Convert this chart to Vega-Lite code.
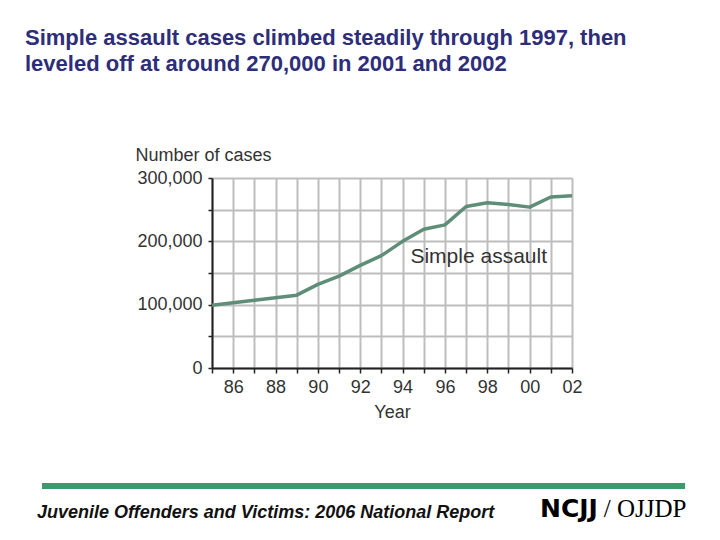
{
  "$schema": "https://vega.github.io/schema/vega-lite/v6.json",
  "autosize": "none",
  "width": 360,
  "height": 190,
  "padding": {"left": 212, "top": 178, "right": 148, "bottom": 172},
  "background": "white",
  "config": {"view": {"stroke": null}, "font": "Liberation Sans"},
  "title": {
    "text": ["Simple assault cases climbed steadily through 1997, then", "leveled off at around 270,000 in 2001 and 2002"],
    "anchor": "start",
    "frame": "group",
    "dx": -187,
    "offset": 70,
    "fontSize": 22,
    "fontWeight": "bold",
    "font": "Liberation Sans",
    "color": "#2d2d7a",
    "lineHeight": 26
  },
  "layer": [
    {
      "data": {
        "values": [
          {"year": 1985, "cases": 99000},
          {"year": 1986, "cases": 103000},
          {"year": 1987, "cases": 107000},
          {"year": 1988, "cases": 111000},
          {"year": 1989, "cases": 115000},
          {"year": 1990, "cases": 132000},
          {"year": 1991, "cases": 145000},
          {"year": 1992, "cases": 162000},
          {"year": 1993, "cases": 177500},
          {"year": 1994, "cases": 200000},
          {"year": 1995, "cases": 219000},
          {"year": 1996, "cases": 226000},
          {"year": 1997, "cases": 255000},
          {"year": 1998, "cases": 261000},
          {"year": 1999, "cases": 258000},
          {"year": 2000, "cases": 254000},
          {"year": 2001, "cases": 270000},
          {"year": 2002, "cases": 272000}
        ]
      },
      "mark": {"type": "line", "color": "#5e8e77", "strokeWidth": 3.5, "strokeJoin": "round"},
      "encoding": {
        "x": {
          "field": "year", "type": "quantitative",
          "scale": {"domain": [1985, 2002], "nice": false, "zero": false},
          "axis": {
            "values": [1985,1986,1987,1988,1989,1990,1991,1992,1993,1994,1995,1996,1997,1998,1999,2000,2001,2002],
            "tickCount": 30,
            "labelExpr": "datum.value % 2 == 0 ? substring('' + datum.value, 2) : ''",
            "title": "Year",
            "titleFontSize": 18,
            "titleFontWeight": "normal",
            "titleColor": "#333333",
            "titlePadding": 7,
            "labelFontSize": 18,
            "labelColor": "#333333",
            "labelPadding": 5,
            "labelFlush": false,
            "labelOverlap": false,
            "tickSize": 5,
            "tickColor": "#222222",
            "tickWidth": 1.5,
            "domainColor": "#222222",
            "domainWidth": 2,
            "grid": true,
            "gridColor": "#bdbdbd",
            "gridWidth": 2
          }
        },
        "y": {
          "field": "cases", "type": "quantitative",
          "scale": {"domain": [0, 300000], "nice": false},
          "axis": {
            "values": [0, 50000, 100000, 150000, 200000, 250000, 300000],
            "tickCount": 20,
            "labelExpr": "datum.value % 100000 == 0 ? format(datum.value, ',') : ''",
            "title": "Number of cases",
            "titleAngle": 0,
            "titleAlign": "left",
            "titleBaseline": "alphabetic",
            "titleX": -77,
            "titleY": -18,
            "titleFontSize": 18,
            "titleFontWeight": "normal",
            "titleColor": "#333333",
            "labelFontSize": 18,
            "labelColor": "#333333",
            "labelPadding": 6,
            "labelFlush": false,
            "labelOverlap": false,
            "tickSize": 4,
            "tickColor": "#222222",
            "tickWidth": 1.5,
            "domainColor": "#222222",
            "domainWidth": 2,
            "grid": true,
            "gridColor": "#bdbdbd",
            "gridWidth": 2
          }
        }
      }
    },
    {
      "data": {"values": [{"label": "Simple assault"}]},
      "mark": {"type": "text", "align": "left", "baseline": "middle", "fontSize": 21, "color": "#333333", "font": "Liberation Sans"},
      "encoding": {"text": {"field": "label"}, "x": {"datum": 1994.37}, "y": {"datum": 175000}}
    },
    {
      "data": {"values": [{}]},
      "mark": {"type": "rule", "color": "#3b9a6c", "strokeWidth": 6},
      "encoding": {"x": {"datum": 1976.97}, "x2": {"datum": 2007.34}, "y": {"datum": -186316}}
    },
    {
      "data": {"values": [{"label": "Juvenile Offenders and Victims: 2006 National Report"}]},
      "mark": {"type": "text", "align": "left", "baseline": "middle", "fontSize": 18, "fontWeight": "bold", "fontStyle": "italic", "color": "#111111", "font": "Liberation Sans"},
      "encoding": {"text": {"field": "label"}, "x": {"datum": 1976.74}, "y": {"datum": -228947}}
    },
    {
      "data": {"values": [{"label": "NCJJ"}]},
      "mark": {"type": "text", "align": "left", "baseline": "middle", "fontSize": 25, "fontWeight": 900, "color": "#000000", "font": "DejaVu Sans"},
      "encoding": {"text": {"field": "label"}, "x": {"datum": 2000.49}, "y": {"datum": -222632}}
    },
    {
      "data": {"values": [{"label": "/ OJJDP"}]},
      "mark": {"type": "text", "align": "left", "baseline": "middle", "fontSize": 25, "color": "#000000", "font": "Liberation Serif"},
      "encoding": {"text": {"field": "label"}, "x": {"datum": 2003.5}, "y": {"datum": -222632}}
    }
  ]
}
